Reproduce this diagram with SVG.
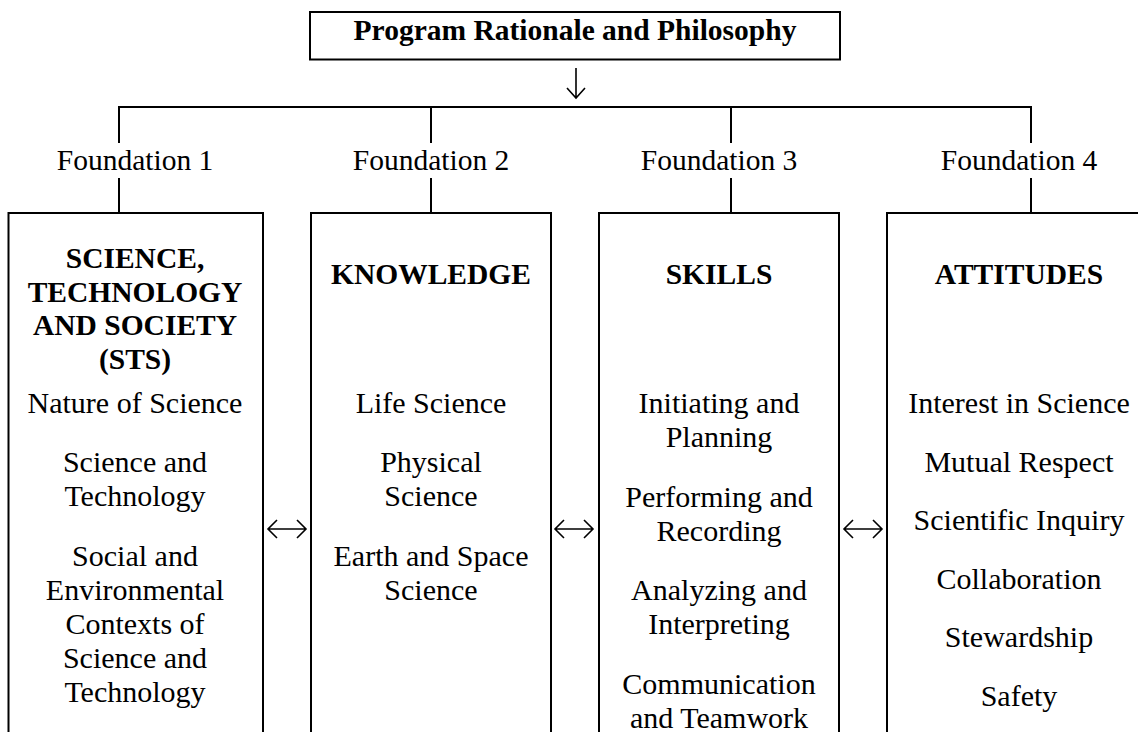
<svg xmlns="http://www.w3.org/2000/svg" width="1138" height="732" viewBox="0 0 1138 732">
<style>
.box{fill:#fff;stroke:#000;stroke-width:2}
.ln{fill:none;stroke:#000;stroke-width:2}
.arr{fill:none;stroke:#000;stroke-width:1.6;stroke-linejoin:miter}
.t{font-family:"Liberation Serif","Times New Roman",serif;font-size:30px;fill:#000;text-anchor:middle}
.f{font-family:"Liberation Serif","Times New Roman",serif;font-size:29.5px;fill:#000;text-anchor:middle}
.b{font-family:"Liberation Serif","Times New Roman",serif;font-size:29.5px;font-weight:bold;fill:#000;text-anchor:middle}
</style>
<rect width="1138" height="732" fill="#fff"/>
<g id="connectors">
<path class="ln" d="M119,107 H1031 M119,106 V143 M431,107 V143 M731,107 V143 M1031,106 V143"/>
<path class="ln" d="M119,178 V213 M431,178 V213 M731,178 V213 M1031,178 V213"/>
<path class="arr" d="M576,68 V98 M567,88 L576,98 L585,88"/>
<path class="arr" d="M268,529 H306 M277,520 L268,529 L277,538 M297,520 L306,529 L297,538"/>
<path class="arr" d="M555,529 H593 M564,520 L555,529 L564,538 M584,520 L593,529 L584,538"/>
<path class="arr" d="M844,529 H882 M853,520 L844,529 L853,538 M873,520 L882,529 L873,538"/>
</g>
<g id="top">
<rect class="box" x="310" y="12" width="530" height="47.5"/>
<text class="b" x="575" y="40">Program Rationale and Philosophy</text>
</g>
<g id="foundation1">
<text class="f" x="135" y="170">Foundation 1</text>
<rect class="box" x="8.5" y="213" width="254.5" height="530"/>
<text class="b" x="135" y="268">SCIENCE,</text>
<text class="b" x="135" y="301.5">TECHNOLOGY</text>
<text class="b" x="135" y="335">AND SOCIETY</text>
<text class="b" x="135" y="368.5">(STS)</text>
<text class="t" x="135" y="413">Nature of Science</text>
<text class="t" x="135" y="472">Science and</text>
<text class="t" x="135" y="506">Technology</text>
<text class="t" x="135" y="565.5">Social and</text>
<text class="t" x="135" y="599.5">Environmental</text>
<text class="t" x="135" y="633.5">Contexts of</text>
<text class="t" x="135" y="667.5">Science and</text>
<text class="t" x="135" y="701.5">Technology</text>
</g>
<g id="foundation2">
<text class="f" x="431" y="170">Foundation 2</text>
<rect class="box" x="311" y="213" width="240" height="530"/>
<text class="b" x="431" y="284">KNOWLEDGE</text>
<text class="t" x="431" y="413">Life Science</text>
<text class="t" x="431" y="472">Physical</text>
<text class="t" x="431" y="506">Science</text>
<text class="t" x="431" y="565.5">Earth and Space</text>
<text class="t" x="431" y="599.5">Science</text>
</g>
<g id="foundation3">
<text class="f" x="719" y="170">Foundation 3</text>
<rect class="box" x="599" y="213" width="240" height="530"/>
<text class="b" x="719" y="284">SKILLS</text>
<text class="t" x="719" y="413">Initiating and</text>
<text class="t" x="719" y="447">Planning</text>
<text class="t" x="719" y="506.5">Performing and</text>
<text class="t" x="719" y="540.5">Recording</text>
<text class="t" x="719" y="600">Analyzing and</text>
<text class="t" x="719" y="634">Interpreting</text>
<text class="t" x="719" y="693.5">Communication</text>
<text class="t" x="719" y="727.5">and Teamwork</text>
</g>
<g id="foundation4">
<text class="f" x="1019" y="170">Foundation 4</text>
<rect class="box" x="887" y="213" width="264" height="530"/>
<text class="b" x="1019" y="284">ATTITUDES</text>
<text class="t" x="1019" y="413">Interest in Science</text>
<text class="t" x="1019" y="471.5">Mutual Respect</text>
<text class="t" x="1019" y="530">Scientific Inquiry</text>
<text class="t" x="1019" y="588.5">Collaboration</text>
<text class="t" x="1019" y="647">Stewardship</text>
<text class="t" x="1019" y="705.5">Safety</text>
</g>
</svg>
